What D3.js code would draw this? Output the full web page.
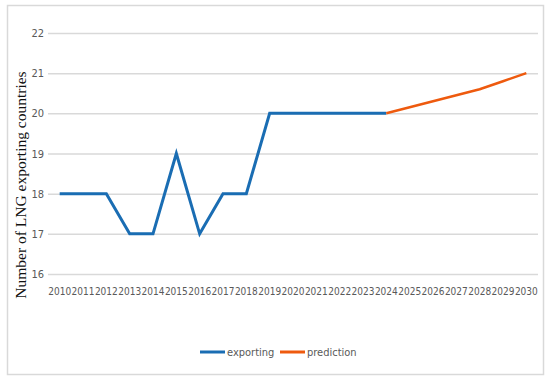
<!DOCTYPE html>
<html>
<head>
<meta charset="utf-8">
<script src="https://cdn.jsdelivr.net/npm/d3@7"></script>
<style>
  body { margin: 0; background: #fff; }
  .tick text { fill: #595959; font-family: "Liberation Sans Narrow", "DejaVu Sans Condensed", sans-serif; }
</style>
</head>
<body>
<div id="vis"></div>
<script>
var years = ['2010','2011','2012','2013','2014','2015','2016','2017','2018','2019','2020',
  '2021','2022','2023','2024','2025','2026','2027','2028','2029','2030'];
var exportYears = ['2010','2011','2012','2013','2014','2015','2016','2017','2018','2019','2020','2021','2022','2023','2024'];
var exportValues = [18, 18, 18, 17, 17, 19, 17, 18, 18, 20, 20, 20, 20, 20, 20];
var predYears = ['2024','2025','2026','2027','2028','2029','2030'];
var predValues = [20, 20.15, 20.3, 20.45, 20.6, 20.8, 21];
var yTicks = [16, 17, 18, 19, 20, 21, 22];

var width = 550, height = 382;
var margin = { left: 48, right: 12, top: 33, bottom: 108 };
var drawWidth = width - margin.left - margin.right;
var drawHeight = height - margin.top - margin.bottom;

var svg = d3.select('#vis').append('svg')
  .attr('width', width)
  .attr('height', height);

// outer frame
svg.append('rect')
  .attr('x', 7.5).attr('y', 5.5)
  .attr('width', 536).attr('height', 369)
  .attr('fill', '#fff')
  .attr('stroke', '#d9d9d9')
  .attr('stroke-width', 1.5);

var g = svg.append('g')
  .attr('transform', 'translate(' + margin.left + ',' + margin.top + ')');

var xScale = d3.scaleBand().domain(years).range([0, drawWidth]);
var yScale = d3.scaleLinear().domain([16, 22]).range([drawHeight, 0]);

// gridlines + y labels
var yAxis = d3.axisLeft(yScale).tickValues(yTicks).tickFormat(d3.format('d'))
  .tickSize(-drawWidth).tickPadding(4);
var yG = g.append('g').call(yAxis);
yG.select('.domain').remove();
yG.selectAll('.tick line').attr('stroke', '#d9d9d9').attr('stroke-width', 1.5);
yG.selectAll('.tick text').style('font-size', '11px');

// x labels
var xAxis = d3.axisBottom(xScale).tickSize(0).tickPadding(14);
var xG = g.append('g').attr('transform', 'translate(0,' + drawHeight + ')').call(xAxis);
xG.select('.domain').remove();
xG.selectAll('.tick text').style('font-size', '10px');

var line = d3.line()
  .x(function(d) { return xScale(d.year) + xScale.bandwidth() / 2; })
  .y(function(d) { return yScale(d.value); });

var exportData = exportYears.map(function(y, i) { return { year: y, value: exportValues[i] }; });
var predData = predYears.map(function(y, i) { return { year: y, value: predValues[i] }; });

g.append('path').datum(exportData)
  .attr('fill', 'none').attr('stroke', '#1a6db3').attr('stroke-width', 3)
  .attr('stroke-linejoin', 'miter').attr('d', line);

g.append('path').datum(predData)
  .attr('fill', 'none').attr('stroke', '#ee5a0e').attr('stroke-width', 2.5)
  .attr('stroke-linejoin', 'round').attr('d', line);

// y axis title
svg.append('text')
  .attr('transform', 'translate(26,185) rotate(-90)')
  .attr('text-anchor', 'middle')
  .style('font-family', '"Liberation Serif", "Times New Roman", serif')
  .style('font-size', '15.5px')
  .attr('fill', '#111')
  .text('Number of LNG exporting countries');

// legend
var legend = [
  { name: 'exporting', color: '#1a6db3', x: 200 },
  { name: 'prediction', color: '#ee5a0e', x: 280 }
];
var lg = svg.selectAll('.legend').data(legend).enter().append('g')
  .attr('class', 'legend')
  .attr('transform', function(d) { return 'translate(' + d.x + ',352)'; });
lg.append('line')
  .attr('x1', 0).attr('x2', 25).attr('y1', 0).attr('y2', 0)
  .attr('stroke', function(d) { return d.color; })
  .attr('stroke-width', 3);
lg.append('text')
  .attr('x', 27).attr('y', 4)
  .style('font-family', '"Liberation Sans Narrow", "DejaVu Sans Condensed", sans-serif')
  .style('font-size', '11px')
  .attr('fill', '#595959')
  .text(function(d) { return d.name; });
</script>
</body>
</html>
